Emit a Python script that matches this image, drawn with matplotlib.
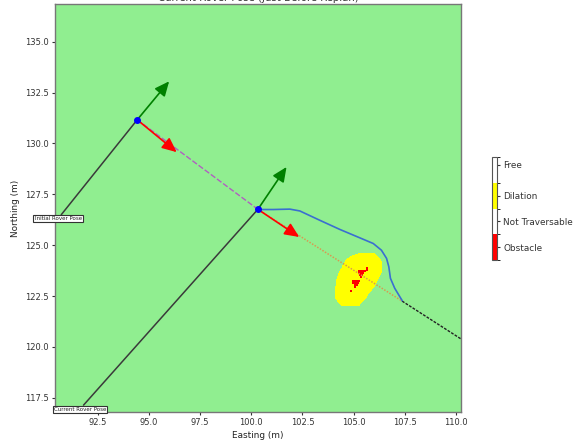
import numpy as np
import matplotlib
matplotlib.use("Agg")
import matplotlib.pyplot as plt
from matplotlib.colors import ListedColormap, BoundaryNorm
from matplotlib.cm import ScalarMappable

# Data
initial_pose = (94.42, 131.16)
current_pose = (100.32, 126.76)
initial_heading_tip = (95.98, 133.05)
initial_goal_tip = (96.35, 129.57)
current_heading_tip = (101.72, 128.84)
current_goal_tip = (102.34, 125.40)
path_end = (107.37, 122.25)
goal_end = (110.25, 120.39)
initial_label_pos = (90.55, 126.30)
current_label_pos = (91.62, 116.94)
path_x = [100.32, 101.07, 101.88, 102.37, 103.35, 104.33, 105.30, 105.96, 106.36, 106.61, 106.72, 106.80, 107.01, 107.37]
path_y = [126.75, 126.75, 126.77, 126.68, 126.22, 125.77, 125.36, 125.08, 124.75, 124.35, 123.94, 123.37, 122.88, 122.28]

# Occupancy map: per row (y), the extent of each class along x
dil_y = [124.59, 124.43, 124.27, 124.02, 123.69, 123.28, 122.96, 122.63, 122.34, 122.14, 122.00]
dil_x0 = [105.22, 104.78, 104.65, 104.49, 104.29, 104.16, 104.12, 104.12, 104.12, 104.29, 104.41]
dil_x1 = [106.04, 106.20, 106.36, 106.40, 106.40, 106.20, 106.04, 105.75, 105.58, 105.34, 105.30]
obs_y = [123.90, 123.80, 123.75, 123.65, 123.55, 123.45, 123.25, 123.15, 123.05, 122.95, 122.75]
obs_x0 = [105.58, 105.58, 105.18, 105.22, 105.26, 105.30, 104.88, 104.92, 104.98, 105.02, 104.78]
obs_x1 = [105.72, 105.72, 105.60, 105.52, 105.44, 105.40, 105.32, 105.26, 105.18, 105.12, 104.92]

categories = ["Obstacle", "Not Traversable", "Dilation", "Free"]
category_ticks = [0, 1, 2, 3.19]
class_colors = ["red", "white", "yellow", "white"]
x_ticks = [92.5, 95.0, 97.5, 100.0, 102.5, 105.0, 107.5, 110.0]
y_ticks = [117.5, 120.0, 122.5, 125.0, 127.5, 130.0, 132.5, 135.0]

W, H = 573, 441
fig = plt.figure(figsize=(W / 100, H / 100), dpi=100)
ax = fig.add_axes([55 / W, 1 - 412 / H, 406 / W, 408 / H])
ax.set_facecolor("lightgreen")
ax.set_xlim(90.40, 110.25)
ax.set_ylim(116.80, 136.85)

# Map
res = 0.05
gx = np.arange(103.5, 107.0, res)
gy = np.arange(121.5, 125.0, res)
grid = np.full((gy.size, gx.size), np.nan)
for j, y in enumerate(gy):
    if dil_y[-1] <= y + res / 2 <= dil_y[0]:
        x0 = np.interp(y + res / 2, dil_y[::-1], dil_x0[::-1])
        x1 = np.interp(y + res / 2, dil_y[::-1], dil_x1[::-1])
        grid[j, (gx + res / 2 >= x0) & (gx + res / 2 <= x1)] = 2
for y, x0, x1 in zip(obs_y, obs_x0, obs_x1):
    j = np.argmin(np.abs(gy - y))
    grid[max(j - 1, 0):j + 1, (gx + res / 2 >= x0) & (gx + res / 2 <= x1)] = 0
cmap = ListedColormap(class_colors)
norm = BoundaryNorm(np.arange(-0.5, 4.5), cmap.N)
ax.pcolormesh(np.append(gx, gx[-1] + res), np.append(gy, gy[-1] + res),
              np.ma.masked_invalid(grid), cmap=cmap, norm=norm, zorder=1)

# Travelled / planned lines
ax.plot([initial_pose[0], current_pose[0]], [initial_pose[1], current_pose[1]],
        color="#b060c0", lw=1, ls=(0, (4, 1.5)), zorder=2)
ax.plot([current_pose[0], path_end[0]], [current_pose[1], path_end[1]],
        color="#d89a50", lw=1.1, ls=(0, (1, 1)), zorder=3)
ax.plot([path_end[0], goal_end[0]], [path_end[1], goal_end[1]],
        color="#222222", lw=1, ls=(0, (2, 1)), zorder=3)
ax.plot(path_x, path_y, color="#3a6fd0", lw=1.2, zorder=4)

# Pose arrows
for start, tip, col in [(initial_pose, initial_heading_tip, "green"),
                        (initial_pose, initial_goal_tip, "red"),
                        (current_pose, current_heading_tip, "green"),
                        (current_pose, current_goal_tip, "red")]:
    ax.annotate("", xy=tip, xytext=start, zorder=5,
                arrowprops=dict(arrowstyle="-|>,head_width=0.36,head_length=0.8",
                                color=col, lw=1.2, shrinkA=0, shrinkB=0, mutation_scale=11))

# Labels with leader lines
for txt, pos, pose in [("Initial Rover Pose", initial_label_pos, initial_pose),
                       ("Current Rover Pose", current_label_pos, current_pose)]:
    ax.annotate(txt, xy=pose, xytext=pos, fontsize=4, ha="center", va="center", zorder=6,
                annotation_clip=False, color="#222222",
                bbox=dict(boxstyle="square,pad=0.2", fc="white", ec="#333333", lw=0.8),
                arrowprops=dict(arrowstyle="-", color="#3a3a3a", lw=1.1, shrinkA=0, shrinkB=0))
ax.plot(*zip(initial_pose, current_pose), ls="none", marker="o", ms=4, color="blue", zorder=7)

ax.set_xticks(x_ticks)
ax.set_yticks(y_ticks)
ax.tick_params(labelsize=6, length=2.2, width=0.8, pad=2.4, colors="#333333")
ax.set_xlabel("Easting (m)", fontsize=6.4, color="#222222")
ax.set_ylabel("Northing (m)", fontsize=6.4, color="#222222")
ax.xaxis.set_label_coords(0.5, -0.0466)
ax.yaxis.set_label_coords(-0.086, 0.5)
ax.set_title("Current Rover Pose (Just Before Replan)", fontsize=7.3, pad=2, color="#333333")
for s in ax.spines.values():
    s.set_color("#777777")
    s.set_linewidth(1.0)

# Category colour bar
cax = fig.add_axes([492 / W, 1 - 260 / H, 5 / W, 103 / H])
cb = fig.colorbar(ScalarMappable(norm=norm, cmap=cmap), cax=cax, ticks=category_ticks)
cb.ax.set_yticklabels(categories)
cb.ax.tick_params(labelsize=6.4, length=2.5, width=0.8, pad=2, colors="#333333")
cb.outline.set_edgecolor("#555555")
cb.outline.set_linewidth(0.8)

fig.savefig("out.png", dpi=100)
